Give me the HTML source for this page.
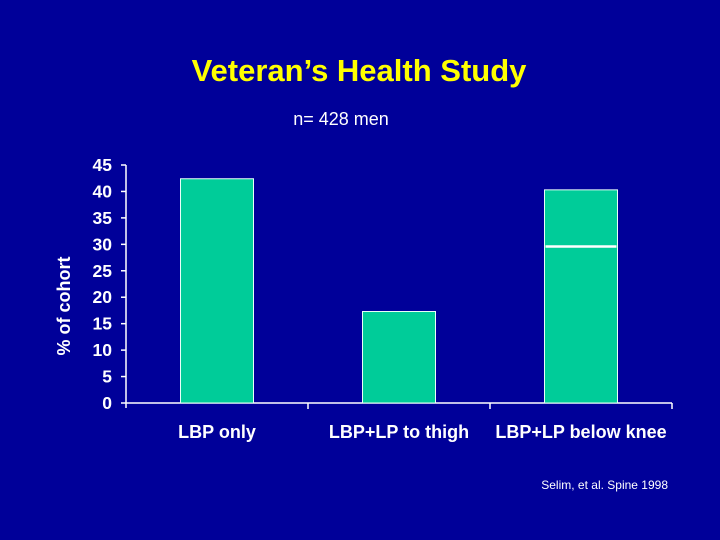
<!DOCTYPE html>
<html><head><meta charset="utf-8"><style>
html,body{margin:0;padding:0;background:#000099;}
svg{display:block;}
</style></head><body>
<svg width="720" height="540" viewBox="0 0 720 540" font-family="Liberation Sans, Arial, sans-serif">
<rect width="720" height="540" fill="#000099"/>
<text x="359" y="81" text-anchor="middle" fill="#FFFF00" font-size="31" font-weight="bold">Veteran’s Health Study</text>
<text x="341" y="125" text-anchor="middle" fill="#FFFFFF" font-size="18">n= 428 men</text>
<text transform="translate(70,306) rotate(-90)" text-anchor="middle" fill="#FFFFFF" font-size="18" font-weight="bold">% of cohort</text>
<text x="668" y="489" text-anchor="end" fill="#FFFFFF" font-size="12">Selim, et al. Spine 1998</text>
<g id="axes"></g>
<g id="bars"></g>
</svg>
<script>
const categories = ["LBP only", "LBP+LP to thigh", "LBP+LP below knee"];
const values = [42.4, 17.3, 40.3];
const markerValues = [null, null, 29.6];
const yTicks = [0, 5, 10, 15, 20, 25, 30, 35, 40, 45];

const NS = "http://www.w3.org/2000/svg";
const x0 = 126, x1 = 672, yBase = 403, yTop = 165, yMax = 45;
const catW = (x1 - x0) / categories.length;
function yScale(v){ return yBase - (v / yMax) * (yBase - yTop); }
function xCenter(i){ return x0 + catW * (i + 0.5); }
function mk(tag, attrs, parent){
  const el = document.createElementNS(NS, tag);
  for (const k in attrs) el.setAttribute(k, attrs[k]);
  parent.appendChild(el);
  return el;
}
const axes = document.getElementById("axes");
const bars = document.getElementById("bars");

const yAxis = mk("line", {x1:x0, y1:yTop, x2:x0, y2:yBase+5, stroke:"#fff", "stroke-width":1.5}, axes);


const xAxis = mk("line", {x1:x0, y1:yBase, x2:x1, y2:yBase, stroke:"#fff", "stroke-width":1.5}, axes);



yTicks.forEach(t => {
  const y = yScale(t);
  const tk = mk("line", {x1:x0-5, y1:y, x2:x0, y2:y, stroke:"#fff", "stroke-width":1.5}, axes);
  
  
  const lb = mk("text", {x:x0-14, y:y+6, "text-anchor":"end", fill:"#fff", "font-size":17.5, "font-weight":"bold"}, axes);
  lb.textContent = t;
  
  
});
for (let i = 1; i <= categories.length; i++) {
  const x = x0 + catW * i;
  const tk = mk("line", {x1:x, y1:yBase, x2:x, y2:yBase+6, stroke:"#fff", "stroke-width":1.5}, axes);
  
  
}
const barW = 73;
categories.forEach((c, i) => {
  const cx = xCenter(i);
  const y = yScale(values[i]);
  const r = mk("rect", {x:cx-barW/2, y:y, width:barW, height:yBase-y, fill:"#00CC99", stroke:"#e8fff8", "stroke-width":1}, bars);
  
  
  if (markerValues[i] != null) {
    const my = yScale(markerValues[i]);
    const m = mk("line", {x1:cx-barW/2+1, y1:my, x2:cx+barW/2-1, y2:my, stroke:"#ffffff", "stroke-width":2.5}, bars);
    
    
  }
  const lb = mk("text", {x:cx, y:438, "text-anchor":"middle", fill:"#fff", "font-size":18, "font-weight":"bold"}, axes);
  lb.textContent = c;
  
  
});
</script>
</body></html>
